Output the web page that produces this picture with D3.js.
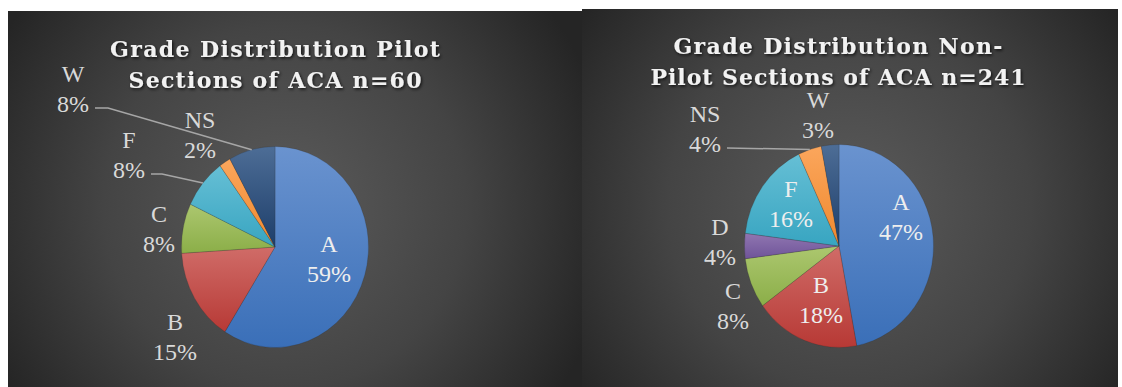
<!DOCTYPE html>
<html>
<head>
<meta charset="utf-8">
<script src="https://cdn.jsdelivr.net/npm/d3@7"></script>
<style>
  html, body { margin: 0; padding: 0; background: #fff; }
  svg { display: block; }
  .lab { font-family: "Liberation Serif", "Times New Roman", "DejaVu Serif", serif; }
</style>
</head>
<body>
<svg id="chart" width="1122" height="387"></svg>
<script>
// grade categories, in the order they go round the pie (clockwise from 12 o'clock)
var grades = ["A", "B", "C", "D", "F", "NS", "W"];

// percent of students per grade
var pilotPct    = [59, 15, 8, 0, 8, 2, 8];
var nonPilotPct = [47, 18, 8, 4, 16, 4, 3];

var pilotTitle    = ["Grade Distribution Pilot", "Sections of ACA  n=60"];
var nonPilotTitle = ["Grade Distribution Non-", "Pilot Sections of ACA n=241"];

// slice colours, light (top) and dark (bottom) of the gradient
var sliceCols = {
  A:  ["#6a93cf", "#3a6fb8"],
  B:  ["#d06c68", "#b73935"],
  C:  ["#acc76f", "#8bae48"],
  D:  ["#9076b1", "#6f5499"],
  F:  ["#66bfd5", "#38a5c1"],
  NS: ["#fba65c", "#f0892e"],
  W:  ["#4d6d96", "#1d3e6a"]
};

var svg = d3.select("#chart");
var defs = svg.append("defs");

var shadow = defs.append("filter").attr("id", "tshadow")
  .attr("x", "-10%").attr("y", "-30%").attr("width", "120%").attr("height", "160%");
shadow.append("feDropShadow").attr("dx", 1.2).attr("dy", 1.5)
  .attr("stdDeviation", 1.4).attr("flood-color", "#000").attr("flood-opacity", 0.75);

grades.forEach(function(g) {
  var lg = defs.append("linearGradient").attr("id", "grad_" + g)
    .attr("x1", 0).attr("y1", 0).attr("x2", 0).attr("y2", 1);
  lg.append("stop").attr("offset", "0%").attr("stop-color", sliceCols[g][0]);
  lg.append("stop").attr("offset", "100%").attr("stop-color", sliceCols[g][1]);
});

// layout for each panel
var panels = [
  {
    id: "pilot", values: pilotPct, title: pilotTitle,
    x0: 8, y0: 11, x1: 582, y1: 387,
    cx: 275, cy: 247, rx: 93.5, ry: 100.5,
    titleX: 275, titleY: [57, 88], titleW: [330, 293],
    labels: {
      A:  { dx: 54,   dy: 5,    inside: true },
      B:  { dx: -100, dy: 83 },
      C:  { dx: -116, dy: -25 },
      F:  { dx: -146, dy: -99,  leader: true, elbow: 11 },
      NS: { dx: -75,  dy: -119 },
      W:  { dx: -202, dy: -165, leader: true, elbow: 13 }
    }
  },
  {
    id: "nonpilot", values: nonPilotPct, title: nonPilotTitle,
    x0: 582, y0: 9, x1: 1118, y1: 387,
    cx: 839, cy: 246, rx: 94.5, ry: 101.5,
    titleX: 838, titleY: [54, 85], titleW: [329, 375],
    labels: {
      A:  { dx: 62,   dy: -36, inside: true },
      B:  { dx: -18,  dy: 47,  inside: true },
      C:  { dx: -106, dy: 53 },
      D:  { dx: -119, dy: -11 },
      F:  { dx: -48,  dy: -49, inside: true },
      NS: { dx: -134, dy: -124, leader: true, elbow: 0 },
      W:  { dx: -21,  dy: -138 }
    }
  }
];

var lineGap = 30;

panels.forEach(function(p) {
  var bg = defs.append("radialGradient").attr("id", "bg_" + p.id)
    .attr("gradientUnits", "userSpaceOnUse")
    .attr("cx", p.cx + 10).attr("cy", p.cy - 40).attr("r", 330);
  bg.append("stop").attr("offset", "0%").attr("stop-color", "#5b5b5b");
  bg.append("stop").attr("offset", "55%").attr("stop-color", "#444");
  bg.append("stop").attr("offset", "100%").attr("stop-color", "#252525");

  var g = svg.append("g");
  g.append("rect")
    .attr("x", p.x0).attr("y", p.y0)
    .attr("width", p.x1 - p.x0).attr("height", p.y1 - p.y0)
    .attr("fill", "url(#bg_" + p.id + ")");

  // title
  g.selectAll("text.title").data(p.title).join("text")
    .attr("class", "title")
    .attr("x", p.titleX)
    .attr("y", function(d, i) { return p.titleY[i]; })
    .attr("text-anchor", "middle")
    .attr("textLength", function(d, i) { return p.titleW[i]; })
    .attr("lengthAdjust", "spacing")
    .attr("font-family", "'DejaVu Serif', serif")
    .attr("font-weight", "bold")
    .attr("font-size", 22)
    .attr("fill", "#f2f2f2")
    .attr("filter", "url(#tshadow)")
    .text(function(d) { return d; });

  var data = grades.map(function(k, i) { return { grade: k, value: p.values[i] }; });
  var pie = d3.pie().sort(null).value(function(d) { return d.value; });
  var arcs = pie(data);
  var R = 100;
  var arc = d3.arc().innerRadius(0).outerRadius(R);
  var sx = p.rx / R, sy = p.ry / R;

  var pieG = g.append("g")
    .attr("transform", "translate(" + p.cx + "," + p.cy + ") scale(" + sx + "," + sy + ")");
  pieG.selectAll("path").data(arcs.filter(function(a) { return a.data.value > 0; })).join("path")
    .attr("d", arc)
    .attr("fill", function(d) { return "url(#grad_" + d.data.grade + ")"; })
    .attr("stroke", "rgba(40,40,40,0.35)")
    .attr("stroke-width", 0.6);

  // data labels
  var labG = g.append("g");
  arcs.forEach(function(a) {
    var lab = p.labels[a.data.grade];
    if (!lab || a.data.value <= 0) return;
    var lx = p.cx + lab.dx, ly = p.cy + lab.dy;
    var t = labG.append("text")
      .attr("class", "lab")
      .attr("text-anchor", "middle")
      .attr("font-size", 24)
      .attr("fill", lab.inside ? "#eeeeee" : "#d9d9d9");
    t.append("tspan").attr("x", lx).attr("y", ly).text(a.data.grade);
    var pct = t.append("tspan").attr("x", lx).attr("y", ly + lineGap).text(a.data.value + "%");

    if (lab.leader) {
      var w = pct.node().getComputedTextLength();
      var sxp = lx + w / 2 + 6, syp = ly + lineGap - 4;
      var mid = (a.startAngle + a.endAngle) / 2;
      var ex = p.cx + Math.sin(mid) * p.rx;
      var ey = p.cy - Math.cos(mid) * p.ry;
      var pts = [[sxp, syp]];
      if (lab.elbow) pts.push([sxp + lab.elbow, syp]);
      pts.push([ex, ey]);
      labG.append("path")
        .attr("d", d3.line()(pts))
        .attr("fill", "none")
        .attr("stroke", "#a6a6a6")
        .attr("stroke-width", 1.5);
    }
  });
});
</script>
</body>
</html>
